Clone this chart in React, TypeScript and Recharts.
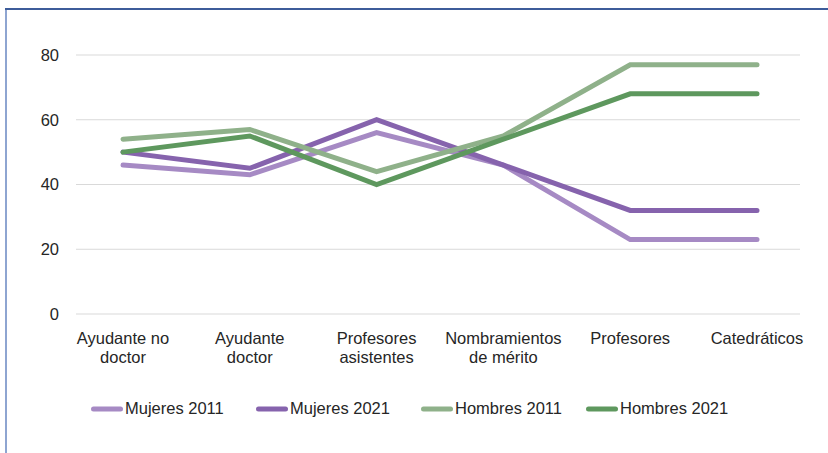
import React from "react";
import { LineChart, Line, XAxis, YAxis, CartesianGrid, Legend, Text } from "recharts";

const categories = [
  "Ayudante no doctor",
  "Ayudante doctor",
  "Profesores asistentes",
  "Nombramientos de mérito",
  "Profesores",
  "Catedráticos",
];
const mujeres2011 = [46, 43, 56, 46, 23, 23];
const mujeres2021 = [50, 45, 60, 46, 32, 32];
const hombres2011 = [54, 57, 44, 55, 77, 77];
const hombres2021 = [50, 55, 40, 54, 68, 68];
const yTicks = [0, 20, 40, 60, 80];

const series = [
  { key: "m2011", name: "Mujeres 2011", color: "#A68AC4", values: mujeres2011 },
  { key: "m2021", name: "Mujeres 2021", color: "#8663AD", values: mujeres2021 },
  { key: "h2011", name: "Hombres 2011", color: "#8FB18A", values: hombres2011 },
  { key: "h2021", name: "Hombres 2021", color: "#5E985E", values: hombres2021 },
];

const chartData = categories.map((c, i) => {
  const row: Record<string, string | number> = { cat: c };
  series.forEach((s) => (row[s.key] = s.values[i]));
  return row;
});

const FONT = "'Liberation Sans', Arial, sans-serif";
const TEXT = "#262626";
const FS = 16.5;

const CategoryTick = (props: any) => {
  const { x, y, payload } = props;
  return (
    <Text x={x} y={y} width={100} textAnchor="middle" verticalAnchor="start"
      lineHeight={19} fontSize={FS} fill={TEXT} fontFamily={FONT}>
      {payload.value}
    </Text>
  );
};

const LegendBox = () => (
  <div style={{ display: "flex", fontFamily: FONT, fontSize: FS, color: TEXT }}>
    {series.map((s) => (
      <div key={s.key} style={{ width: 165, display: "flex", alignItems: "center" }}>
        <svg width={32} height={8} style={{ marginRight: 2 }}>
          <line x1={2.5} y1={4} x2={29.5} y2={4} stroke={s.color} strokeWidth={5} strokeLinecap="round" />
        </svg>
        <span>{s.name}</span>
      </div>
    ))}
  </div>
);

export default function App() {
  return (
    <div style={{ position: "fixed", left: 0, top: 0, width: 828, height: 453, background: "#fff" }}>
      <div style={{ position: "absolute", left: 5, top: 8, width: 2, height: 445, background: "#8EA5D1" }} />
      <div style={{ position: "absolute", left: 5, top: 8, width: 823, height: 2, background: "#3D5C9A" }} />
      <LineChart width={828} height={453} data={chartData}
        margin={{ top: 55, right: 28, left: 26, bottom: 57 }}>
        <CartesianGrid vertical={false} stroke="#D9D9D9" strokeWidth={1} />
        <XAxis dataKey="cat" axisLine={false} tickLine={false} tickSize={0} tickMargin={18}
          height={60} interval={0} padding={{ left: 47, right: 43 }} tick={<CategoryTick />} />
        <YAxis domain={[0, 80]} ticks={yTicks} axisLine={false} tickLine={false} tickSize={0}
          tickMargin={17} width={50} tick={{ fontSize: FS, fill: TEXT, fontFamily: FONT }} />
        <Legend content={<LegendBox />} wrapperStyle={{ left: 91, top: 399, width: 700, height: 22 }} />
        {series.map((s) => (
          <Line key={s.key} dataKey={s.key} name={s.name} type="linear" stroke={s.color}
            strokeWidth={5} strokeLinecap="round" dot={false} activeDot={false}
            isAnimationActive={false} />
        ))}
      </LineChart>
    </div>
  );
}
